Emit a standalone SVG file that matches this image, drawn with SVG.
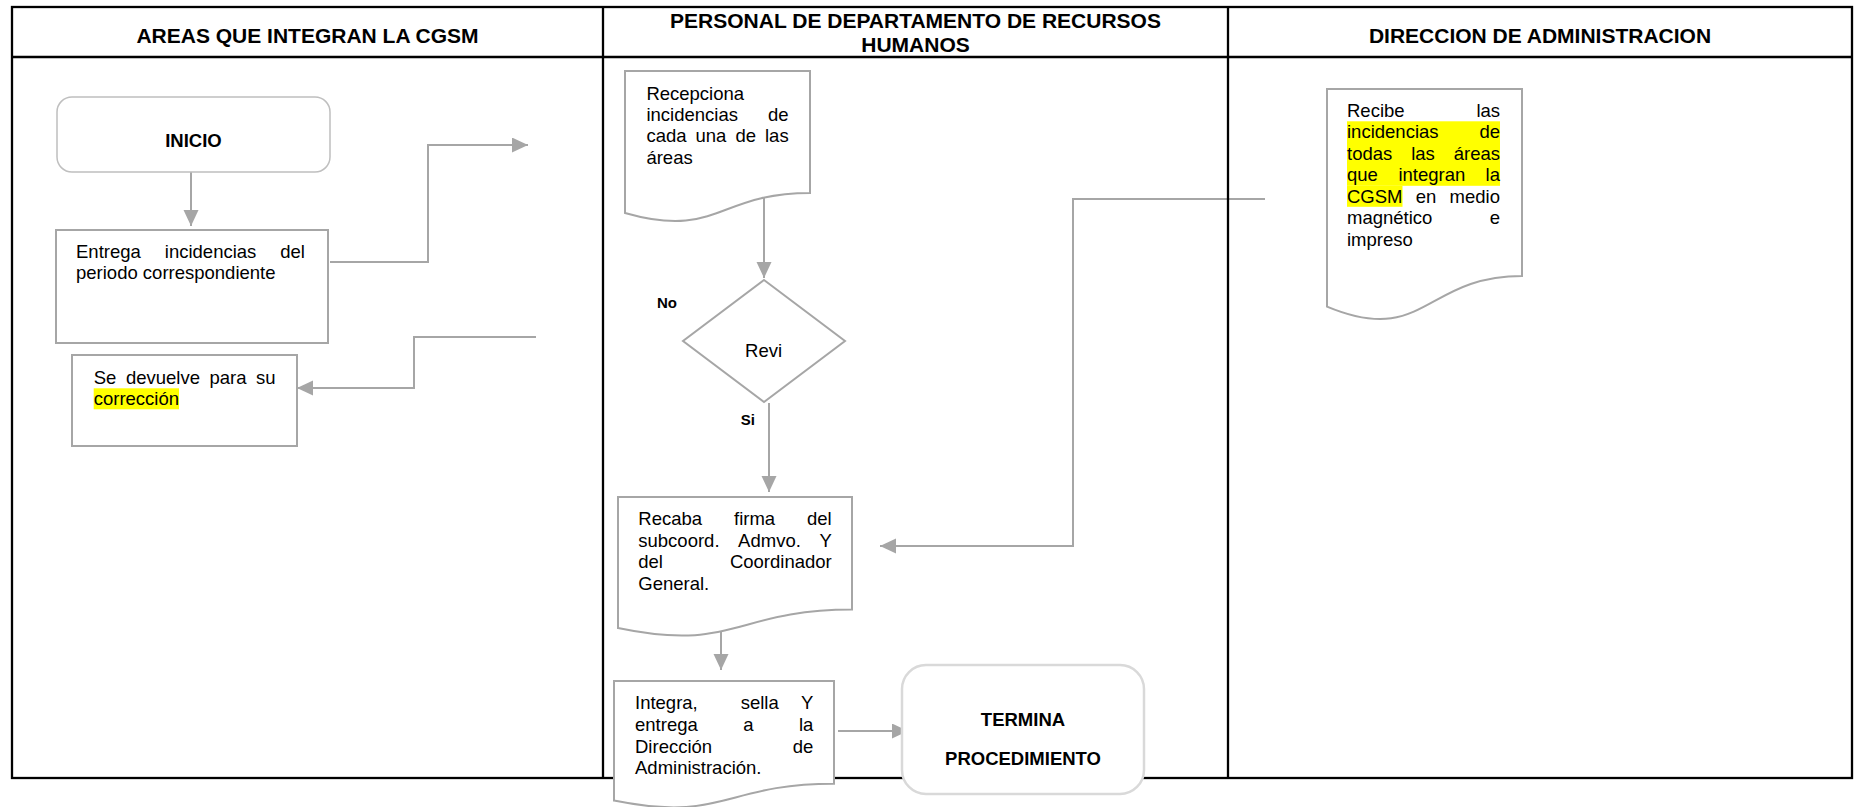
<svg xmlns="http://www.w3.org/2000/svg" width="1856" height="807" viewBox="0 0 1856 807">
<style>
.hdr{font-family:"Liberation Sans",Arial,sans-serif;font-size:21px;font-weight:bold;fill:#000}
.t{font-family:"Liberation Sans",Arial,sans-serif;font-size:18.5px;fill:#000}
.b{font-family:"Liberation Sans",Arial,sans-serif;font-size:18.5px;font-weight:bold;fill:#000}
.lbl{font-family:"Liberation Sans",Arial,sans-serif;font-size:15px;font-weight:bold;fill:#000}
.grid{stroke:#000;stroke-width:2.3;fill:none}
.conn{stroke:#A6A6A6;stroke-width:2;fill:none}
.shape{fill:#fff;stroke:#A6A6A6;stroke-width:2}
.hl{fill:#FFFF00}
</style>
<defs>
<marker id="arr" markerUnits="userSpaceOnUse" markerWidth="16" markerHeight="16" refX="16" refY="7.5" orient="auto">
<path d="M0,0 L16,7.5 L0,15 Z" fill="#A6A6A6"/>
</marker>
</defs>
<rect x="0" y="0" width="1856" height="807" fill="#fff"/>

<g id="connectors">
<path class="conn" d="M191,172 V226" marker-end="url(#arr)"/>
<path class="conn" d="M330,262 H428 V145 H528" marker-end="url(#arr)"/>
<path class="conn" d="M536,337 H414 V388 H297" marker-end="url(#arr)"/>
<path class="conn" d="M764,196 V278" marker-end="url(#arr)"/>
<path class="conn" d="M769,403 V492" marker-end="url(#arr)"/>
<path class="conn" d="M721,627 V670" marker-end="url(#arr)"/>
<path class="conn" d="M838,731 H908" marker-end="url(#arr)"/>
<path class="conn" d="M1265,199 H1073 V546 H880" marker-end="url(#arr)"/>
</g>

<g id="table">
<rect class="grid" x="12" y="7" width="1840" height="771"/>
<line class="grid" x1="12" y1="57" x2="1852" y2="57"/>
<line class="grid" x1="603" y1="7" x2="603" y2="778"/>
<line class="grid" x1="1228" y1="7" x2="1228" y2="778"/>
<text class="hdr" x="307.5" y="43" text-anchor="middle">AREAS QUE INTEGRAN LA CGSM</text>
<text class="hdr" x="915.5" y="27.5" text-anchor="middle">PERSONAL DE DEPARTAMENTO DE RECURSOS</text>
<text class="hdr" x="915.5" y="52" text-anchor="middle">HUMANOS</text>
<text class="hdr" x="1540" y="43" text-anchor="middle">DIRECCION DE ADMINISTRACION</text>
</g>

<g id="inicio">
<rect x="57" y="97" width="273" height="75" rx="15" fill="#fff" stroke="#BFBFBF" stroke-width="1.5"/>
<text class="b" x="193.5" y="147" text-anchor="middle">INICIO</text>
</g>

<g id="entrega">
<rect class="shape" x="56" y="230" width="272" height="113" stroke-width="2.5"/>
<text class="t" y="258"><tspan x="76">Entrega</tspan><tspan x="164.8">incidencias</tspan><tspan x="280.3">del</tspan></text>
<text class="t" x="76" y="279">periodo correspondiente</text>
</g>

<g id="devuelve">
<rect class="shape" x="72" y="355" width="225" height="91" stroke-width="2.5"/>
<rect class="hl" x="93.7" y="388.3" width="85.3" height="21"/>
<text class="t" y="384"><tspan x="93.7">Se</tspan><tspan x="125.9">devuelve</tspan><tspan x="209.5">para</tspan><tspan x="256.1">su</tspan></text>
<text class="t" x="93.7" y="405">corrección</text>
</g>

<g id="recepciona">
<path class="shape" d="M625,71 H810 V193 C717.5,193 717.5,239.4 625,213 Z"/>
<text class="t" x="646.4" y="100">Recepciona</text>
<text class="t" y="121.2"><tspan x="646.4">incidencias</tspan><tspan x="768">de</tspan></text>
<text class="t" y="142.4"><tspan x="646.4">cada</tspan><tspan x="695.5">una</tspan><tspan x="735.4">de</tspan><tspan x="765">las</tspan></text>
<text class="t" x="646.4" y="163.6">áreas</text>
</g>

<g id="revision">
<path class="shape" d="M764,280 L845,341 L764,402 L683,341 Z"/>
<text class="t" x="763.6" y="357" text-anchor="middle">Revi</text>
<text class="lbl" x="657" y="308">No</text>
<text class="lbl" x="740.7" y="425">Si</text>
</g>

<g id="recaba">
<path class="shape" d="M618,497 H852 V609.6 C735,609.6 735,652.6 618,628.1 Z"/>
<text class="t" y="525"><tspan x="638.3">Recaba</tspan><tspan x="734">firma</tspan><tspan x="807">del</tspan></text>
<text class="t" y="546.7"><tspan x="638.3">subcoord.</tspan><tspan x="738.1">Admvo.</tspan><tspan x="819.4">Y</tspan></text>
<text class="t" y="568.3"><tspan x="638.3">del</tspan><tspan x="729.9">Coordinador</tspan></text>
<text class="t" x="638.3" y="590">General.</text>
</g>

<g id="integra">
<path class="shape" d="M614,681 H834 V783.7 C724,783.7 724,822.8 614,800.6 Z"/>
<text class="t" y="709.3"><tspan x="635">Integra,</tspan><tspan x="740.7">sella</tspan><tspan x="801">Y</tspan></text>
<text class="t" y="731"><tspan x="635">entrega</tspan><tspan x="743.2">a</tspan><tspan x="798.9">la</tspan></text>
<text class="t" y="752.7"><tspan x="635">Dirección</tspan><tspan x="792.7">de</tspan></text>
<text class="t" x="635" y="774">Administración.</text>
</g>

<g id="termina">
<rect x="902" y="665" width="242" height="129" rx="24" fill="#fff" stroke="#D9D9D9" stroke-width="2.5"/>
<text class="b" x="1023" y="726" text-anchor="middle">TERMINA</text>
<text class="b" x="1023" y="765" text-anchor="middle">PROCEDIMIENTO</text>
</g>

<g id="recibe">
<path class="shape" d="M1327,89 H1522 V276 C1424.5,276 1424.5,347.2 1327,306.6 Z"/>
<rect class="hl" x="1347" y="121.3" width="153" height="64.5"/>
<rect class="hl" x="1347" y="185.8" width="55.5" height="21"/>
<text class="t" y="116.5"><tspan x="1347">Recibe</tspan><tspan x="1476.4">las</tspan></text>
<text class="t" y="138"><tspan x="1347">incidencias</tspan><tspan x="1479.4">de</tspan></text>
<text class="t" y="159.5"><tspan x="1347">todas</tspan><tspan x="1411.2">las</tspan><tspan x="1453.7">áreas</tspan></text>
<text class="t" y="181"><tspan x="1347">que</tspan><tspan x="1398.4">integran</tspan><tspan x="1485.6">la</tspan></text>
<text class="t" y="202.5"><tspan x="1347">CGSM</tspan><tspan x="1415.8">en</tspan><tspan x="1449.6">medio</tspan></text>
<text class="t" y="224"><tspan x="1347">magnético</tspan><tspan x="1489.7">e</tspan></text>
<text class="t" x="1347" y="245.5">impreso</text>
</g>
</svg>
